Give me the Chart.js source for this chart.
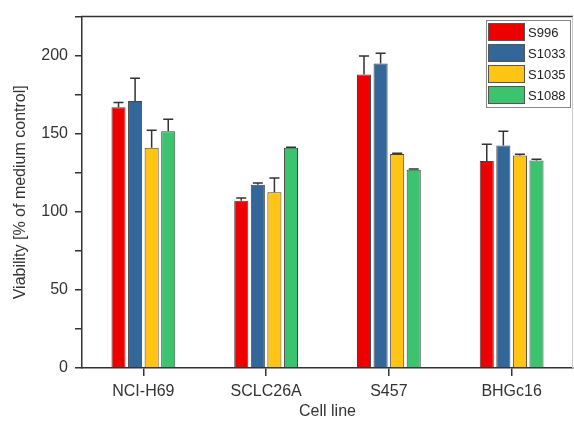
<!DOCTYPE html>
<html>
<head>
<meta charset="utf-8">
<script src="https://cdn.jsdelivr.net/npm/chart.js@4/dist/chart.umd.min.js"></script>
<style>
html,body{margin:0;padding:0;background:#fff;}
#wrap{width:574px;height:421px;}
</style>
</head>
<body>
<div id="wrap"><canvas id="c" width="574" height="421"></canvas></div>
<script>
const categories = ['NCI-H69', 'SCLC26A', 'S457', 'BHGc16'];
const seriesNames = ['S996', 'S1033', 'S1035', 'S1088'];
const s996 = [167, 107.1, 188, 132.5];
const s996Err = [3, 1.7, 11.8, 10.8];
const s1033 = [171, 117.4, 195, 142.5];
const s1033Err = [14.5, 1, 6.5, 9.1];
const s1035 = [141, 112.5, 137, 136.1];
const s1035Err = [11.3, 9.1, 0.5, 0.8];
const s1088 = [151.6, 141, 127, 132.9];
const s1088Err = [7.7, 0.4, 0.4, 0.8];
const yMin = 0, yMax = 225, yStep = 25, yLabelStep = 50;
const colors = ['#ee0000', '#336699', '#ffc414', '#3cc36e'];

const values = [s996, s1033, s1035, s1088];
const errors = [s996Err, s1033Err, s1035Err, s1088Err];

const errorBarPlugin = {
  id: 'errorBars',
  afterDatasetsDraw(chart) {
    const ctx = chart.ctx;
    const y = chart.scales.y;
    ctx.save();
    ctx.strokeStyle = '#333';
    ctx.lineWidth = 1.5;
    chart.data.datasets.forEach((ds, di) => {
      const meta = chart.getDatasetMeta(di);
      meta.data.forEach((bar, i) => {
        const v = ds.data[i];
        const e = ds.errors[i];
        const yTop = y.getPixelForValue(v + e);
        const yBar = y.getPixelForValue(v);
        const x = bar.x;
        ctx.beginPath();
        ctx.moveTo(x, yBar);
        ctx.lineTo(x, yTop);
        ctx.moveTo(x - 5, yTop);
        ctx.lineTo(x + 5, yTop);
        ctx.stroke();
      });
    });
    ctx.restore();
  }
};

const framePlugin = {
  id: 'frame',
  afterDraw(chart) {
    const ctx = chart.ctx;
    const a = chart.chartArea;
    ctx.save();
    ctx.strokeStyle = '#333';
    ctx.lineWidth = 1.5;
    ctx.beginPath();
    ctx.moveTo(a.left - 1, a.top);
    ctx.lineTo(a.right, a.top);
    ctx.stroke();
    ctx.strokeStyle = '#ccc';
    ctx.lineWidth = 1;
    ctx.beginPath();
    ctx.moveTo(a.right - 0.5, a.top);
    ctx.lineTo(a.right - 0.5, a.bottom);
    ctx.stroke();
    ctx.restore();
  }
};

const legendPlugin = {
  id: 'boxLegend',
  afterDraw(chart) {
    const ctx = chart.ctx;
    const bx = 486, by = 20, bw = 84, bh = 87;
    ctx.save();
    ctx.fillStyle = '#fff';
    ctx.fillRect(bx, by, bw, bh);
    ctx.strokeStyle = '#888';
    ctx.lineWidth = 1;
    ctx.strokeRect(bx + 0.5, by + 0.5, bw, bh);
    ctx.font = '13px "Liberation Sans", Arial, sans-serif';
    ctx.textBaseline = 'middle';
    chart.data.datasets.forEach((ds, i) => {
      const ry = by + 3 + i * 21;
      ctx.fillStyle = ds.backgroundColor;
      ctx.fillRect(bx + 2, ry, 37, 18);
      ctx.strokeStyle = '#555';
      ctx.strokeRect(bx + 2.5, ry + 0.5, 36, 17);
      ctx.fillStyle = '#222';
      ctx.fillText(ds.label, bx + 42, ry + 10);
    });
    ctx.restore();
  }
};

new Chart(document.getElementById('c'), {
  type: 'bar',
  data: {
    labels: categories,
    datasets: seriesNames.map((name, i) => ({
      label: name,
      data: values[i],
      errors: errors[i],
      backgroundColor: colors[i],
      borderColor: '#444',
      borderWidth: 1,
      barPercentage: 0.85,
      categoryPercentage: 0.54
    }))
  },
  options: {
    responsive: false,
    animation: false,
    devicePixelRatio: 1,
    layout: { padding: { top: 15, right: 1, left: 0, bottom: 0 } },
    plugins: { legend: { display: false }, tooltip: { enabled: false } },
    scales: {
      x: {
        afterFit(s) { s.height = 53; },
        grid: { display: true, offset: false, drawOnChartArea: false, tickLength: 8, color: '#333', lineWidth: 1.5 },
        border: { color: '#333', width: 1.5 },
        ticks: { color: '#333', padding: 6, font: { size: 16, family: '"Liberation Sans", Arial, sans-serif' } },
        title: { display: true, text: 'Cell line', color: '#333', padding: { top: 0, bottom: 0 }, font: { size: 16, family: '"Liberation Sans", Arial, sans-serif' } }
      },
      y: {
        min: yMin, max: yMax,
        afterFit(s) { s.width = 82; },
        grid: { display: true, drawOnChartArea: false, tickLength: 7, color: '#333', lineWidth: 1.5 },
        border: { color: '#333', width: 1.5 },
        ticks: {
          stepSize: yStep, color: '#333', padding: 7,
          font: { size: 16, family: '"Liberation Sans", Arial, sans-serif' },
          callback: (v) => (v % yLabelStep === 0 ? v : '')
        },
        title: { display: true, text: 'Viability [% of medium control]', color: '#333', padding: { top: 11, bottom: 0 }, font: { size: 16, family: '"Liberation Sans", Arial, sans-serif' } }
      }
    }
  },
  plugins: [errorBarPlugin, framePlugin, legendPlugin]
});
</script>
</body>
</html>
